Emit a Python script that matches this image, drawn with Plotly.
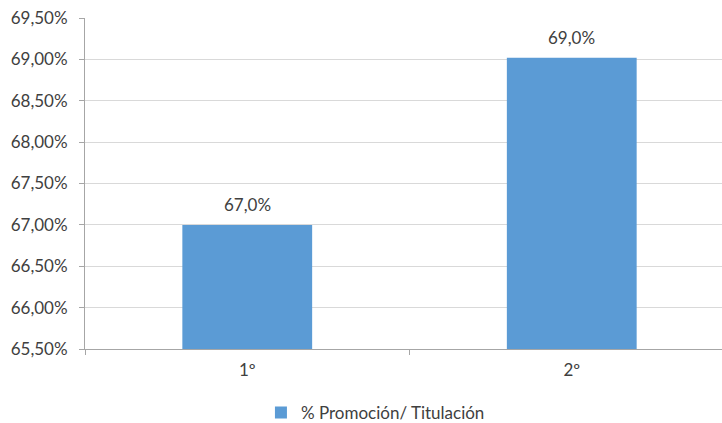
import plotly.graph_objects as go

categories = ["1º", "2º"]
values = [67.0, 69.02]
series_name = "% Promoción/ Titulación"
ytick_vals = [65.5, 66.0, 66.5, 67.0, 67.5, 68.0, 68.5, 69.0, 69.5]
ytick_text = [f"{v:.2f}".replace(".", ",") + "%" for v in ytick_vals]

font_family = "Lato, 'Open Sans', Arial, sans-serif"
text_color = "#404040"
bar_color = "#5b9bd5"

fig = go.Figure()
fig.add_trace(go.Bar(
    x=categories, y=values, name=series_name,
    marker=dict(color=bar_color, line=dict(width=0)),
    width=0.4, showlegend=True,
))

for c, v in zip(categories, values):
    fig.add_annotation(
        x=c, y=v, text=f"{v:.1f}".replace(".", ",") + "%",
        showarrow=False, yanchor="bottom", yshift=8,
        font=dict(size=17, color=text_color, family=font_family),
    )

fig.update_layout(
    width=722, height=423,
    margin=dict(l=85, r=0, t=18, b=74, autoexpand=False),
    paper_bgcolor="white", plot_bgcolor="white",
    font=dict(family=font_family, size=17, color=text_color),
    bargap=0.6,
    legend=dict(
        orientation="h", xref="container", yref="container",
        x=0.52, xanchor="center", y=0.024, yanchor="middle",
        font=dict(size=17, color=text_color, family=font_family),
    ),
    xaxis=dict(
        range=[-0.5, 1.463], automargin=False,
        showline=True, linecolor="#a6a6a6", linewidth=1,
        ticks="outside", ticklen=5, tickcolor="#a6a6a6",
        tickson="boundaries", showgrid=False,
        tickfont=dict(size=17, color=text_color, family=font_family),
        ticklabelstandoff=6,
    ),
    yaxis=dict(
        range=[65.5, 69.5], tickvals=ytick_vals, ticktext=ytick_text,
        automargin=False,
        showline=True, linecolor="#a6a6a6", linewidth=1,
        ticks="outside", ticklen=5, tickcolor="#a6a6a6",
        showgrid=True, gridcolor="#d9d9d9", gridwidth=1,
        zeroline=False, ticklabelstandoff=8,
        tickfont=dict(size=17, color=text_color, family=font_family),
    ),
)

fig.write_html(
    "out.html",
    config={"displayModeBar": False},
    post_script="document.body.style.margin='0';document.body.style.overflow='hidden';",
)
